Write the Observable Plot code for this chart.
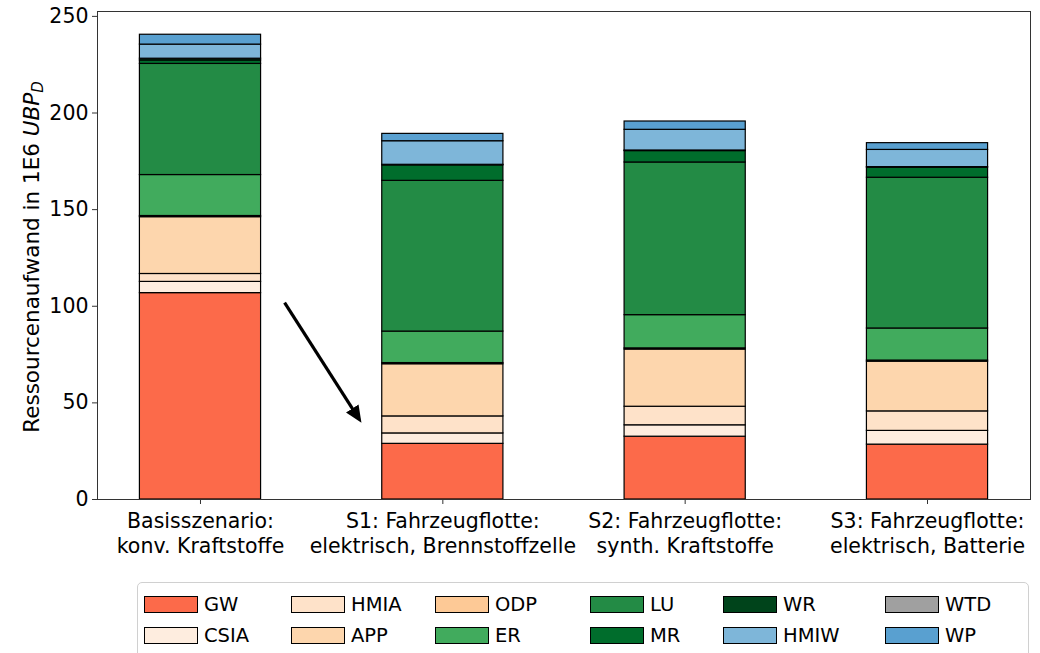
<!DOCTYPE html>
<html>
<head>
<meta charset="utf-8">
<script src="https://cdn.jsdelivr.net/npm/d3@7"></script>
<script src="https://cdn.jsdelivr.net/npm/@observablehq/plot@0.6"></script>
<style>
  html, body { margin: 0; padding: 0; background: #fff; }
  body { font-family: "DejaVu Sans", sans-serif; }
  #wrap { position: relative; width: 1040px; height: 653px; overflow: hidden; }
  #legend {
    position: absolute; left: 137px; top: 582px; width: 892px; height: 90px;
    border: 1px solid #d0d0d0; border-radius: 5px; box-sizing: border-box;
  }
  .item { position: absolute; height: 22px; display: flex; align-items: center; font-size: 19.5px; color: #000; }
  .sw { width: 54px; height: 17px; border: 1px solid #000; box-sizing: border-box; margin-right: 6px; }
</style>
</head>
<body>
<div id="wrap">
  <div id="chart"></div>
  <div id="legend"></div>
</div>
<script>
// Scenarios shown on the x axis
const scenarios = [
  "Basisszenario:\nkonv. Kraftstoffe",
  "S1: Fahrzeugflotte:\nelektrisch, Brennstoffzelle",
  "S2: Fahrzeugflotte:\nsynth. Kraftstoffe",
  "S3: Fahrzeugflotte:\nelektrisch, Batterie"
];

// Impact categories, stacked bottom to top
const categories = ["GW", "CSIA", "HMIA", "APP", "ODP", "ER", "LU", "MR", "WR", "HMIW", "WTD", "WP"];
const colors = ["#fc6a4a", "#feeddf", "#fee2c9", "#fdd6ad", "#fdc996", "#41ab5d",
                "#238b45", "#006d2c", "#00441b", "#7eb6d9", "#a0a0a0", "#59a0d0"];

// Resource use per category and scenario (1E6 UBP_D)
const GW   = [106.8, 28.8, 32.5, 28.4];
const CSIA = [5.8, 5.4, 5.9, 7.1];
const HMIA = [4.1, 8.8, 9.6, 10.1];
const APP  = [29.4, 27.0, 29.6, 25.7];
const ODP  = [0.6, 0.6, 0.6, 0.6];
const ER   = [21.2, 16.3, 17.2, 16.6];
const LU   = [57.5, 78.0, 79.0, 78.0];
const MR   = [1.8, 8.0, 5.9, 5.2];
const WR   = [0.9, 0.3, 0.3, 0.3];
const HMIW = [7.3, 12.2, 10.7, 8.9];
const WTD  = [0, 0, 0, 0];
const WP   = [5.1, 3.8, 4.3, 3.5];

const yTicks = [0, 50, 100, 150, 200, 250];

// Annotation arrow (data units: scenario index, value)
const arrowFrom = [0.347, 101.9];
const arrowTo = [0.650, 42.5];

const seriesValues = [GW, CSIA, HMIA, APP, ODP, ER, LU, MR, WR, HMIW, WTD, WP];

// Build stacked segments
const rows = [];
scenarios.forEach((s, i) => {
  let base = 0;
  categories.forEach((c, k) => {
    const v = seriesValues[k][i];
    rows.push({i, cat: c, y1: base, y2: base + v, v});
    base += v;
  });
});
const segs = rows.filter(d => d.v > 0);

const barHalf = 0.25;
const totalMax = d3.max(scenarios.map((s, i) => d3.sum(seriesValues, a => a[i])));

// Custom filled arrowhead
const filledHead = (color, context) => {
  const m = d3.select(context.document.createElementNS("http://www.w3.org/2000/svg", "marker"));
  m.attr("viewBox", "-8 -7 16 14")
   .attr("markerWidth", 17).attr("markerHeight", 15)
   .attr("markerUnits", "userSpaceOnUse")
   .attr("refX", 2).attr("refY", 0)
   .attr("orient", "auto");
  m.append("path").attr("d", "M-8,-7L8,0L-8,7Z").attr("fill", color).attr("stroke", "none");
  return m.node();
};

const plot = Plot.plot({
  width: 1040,
  height: 575,
  marginLeft: 97,
  marginRight: 10,
  marginTop: 11,
  marginBottom: 76,
  style: {fontFamily: "DejaVu Sans, sans-serif", fontSize: "20.5px", color: "#000", background: "#fff"},
  x: {type: "linear", domain: [-0.425, 3.425]},
  y: {domain: [0, totalMax * 1.05]},
  marks: [
    Plot.rect(segs, {
      x1: d => d.i - barHalf, x2: d => d.i + barHalf,
      y1: "y1", y2: "y2",
      fill: d => colors[categories.indexOf(d.cat)],
      stroke: "#000", strokeWidth: 1.2
    }),
    Plot.link([{a: arrowFrom, b: arrowTo}], {
      x1: d => d.a[0], y1: d => d.a[1], x2: d => d.b[0], y2: d => d.b[1],
      stroke: "#000", strokeWidth: 3.2, markerEnd: filledHead
    }),
    Plot.axisY({ticks: yTicks, tickSize: 5, tickPadding: 4, label: null, stroke: "#333", fontSize: 20.5}),
    Plot.axisX({ticks: [0, 1, 2, 3], tickFormat: i => scenarios[i], tickSize: 5, tickPadding: 6,
                lineHeight: 1.22, label: null, stroke: "#333", fontSize: 20.5}),
    Plot.frame({stroke: "#333", strokeWidth: 1})
  ]
});

document.getElementById("chart").appendChild(plot);

// y-axis title with italic UBP and subscript D
const svg = d3.select(plot);
const t = svg.append("text")
  .attr("transform", "translate(39,257) rotate(-90)")
  .attr("text-anchor", "middle")
  .attr("font-size", 21.5)
  .attr("fill", "#000");
t.append("tspan").text("Ressourcenaufwand in 1E6 ");
t.append("tspan").attr("font-style", "italic").text("UBP");
t.append("tspan").attr("font-style", "italic").attr("font-size", 15).attr("dy", 4).text("D");

// Legend (6 columns, filled column by column)
const legend = d3.select("#legend");
const colX = [6, 153, 297, 452, 585, 747];
const rowY = [10, 41];
categories.forEach((c, k) => {
  const col = Math.floor(k / 2), row = k % 2;
  const it = legend.append("div").attr("class", "item")
    .style("left", colX[col] + "px").style("top", rowY[row] + "px");
  it.append("div").attr("class", "sw").style("background", colors[k]);
  it.append("span").text(c);
});
</script>
</body>
</html>
